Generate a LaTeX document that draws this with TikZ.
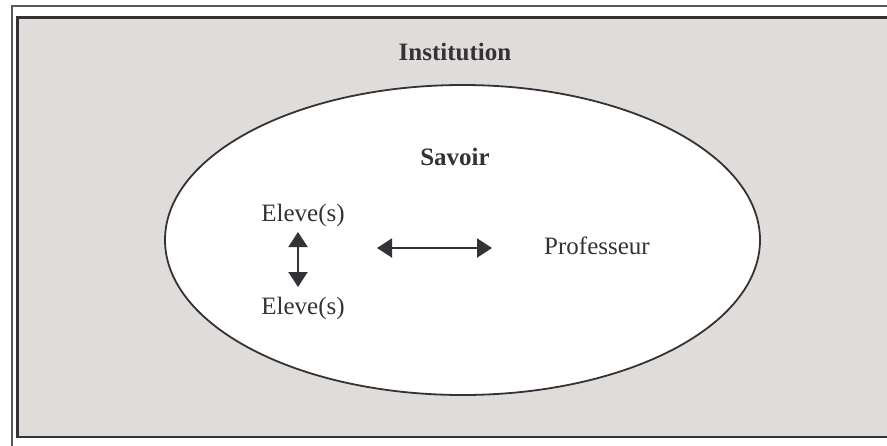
\documentclass[tikz,border=0pt]{standalone}
\usepackage{fontspec}
\setmainfont{Liberation Serif}
\usetikzlibrary{shapes.geometric,arrows.meta}
\definecolor{cadre}{RGB}{224,220,218}
\definecolor{encre}{RGB}{52,50,54}
\begin{document}
\begin{tikzpicture}[x=1pt,y=-1pt,
  lbl/.style={text=encre,font=\fontsize{25}{28}\selectfont,inner sep=0pt},
  fleche/.style={draw=encre,line width=2pt,{Triangle[length=15pt,width=19pt]}-{Triangle[length=15pt,width=19pt]}}]
\useasboundingbox (0,0) rectangle (887,445);
\clip (0,0) rectangle (887,445);
% cadres
\path[fill=white] (0,0) rectangle (887,445);
\path[draw=gray!70!black,line width=2pt] (11.5,6) rectangle (900,460);
\path[draw=encre,fill=cadre,line width=2.5pt] (17.5,17.5) rectangle (895,437);
\node[draw=encre,fill=white,line width=1.8pt,ellipse,minimum width=595pt,minimum height=310pt,inner sep=0pt] (savoirzone) at (462.5,240) {};
\small
\node[lbl,font=\fontsize{25}{28}\selectfont\bfseries] (institution) at (455,52) {Institution};
\node[lbl,font=\fontsize{25}{28}\selectfont\bfseries] (savoir) at (455,157) {Savoir};
\node[lbl] (eleve1) at (303,215) {Eleve(s)};
\node[lbl] (eleve2) at (303,308) {Eleve(s)};
\node[lbl] (prof) at (597,246) {Professeur};
\coordinate (g) at (377,248);
\coordinate (d) at (492,248);
\path[fleche] (298,232) -- (298,287);
\path[fleche] (g) -- (d);
\end{tikzpicture}
\end{document}
